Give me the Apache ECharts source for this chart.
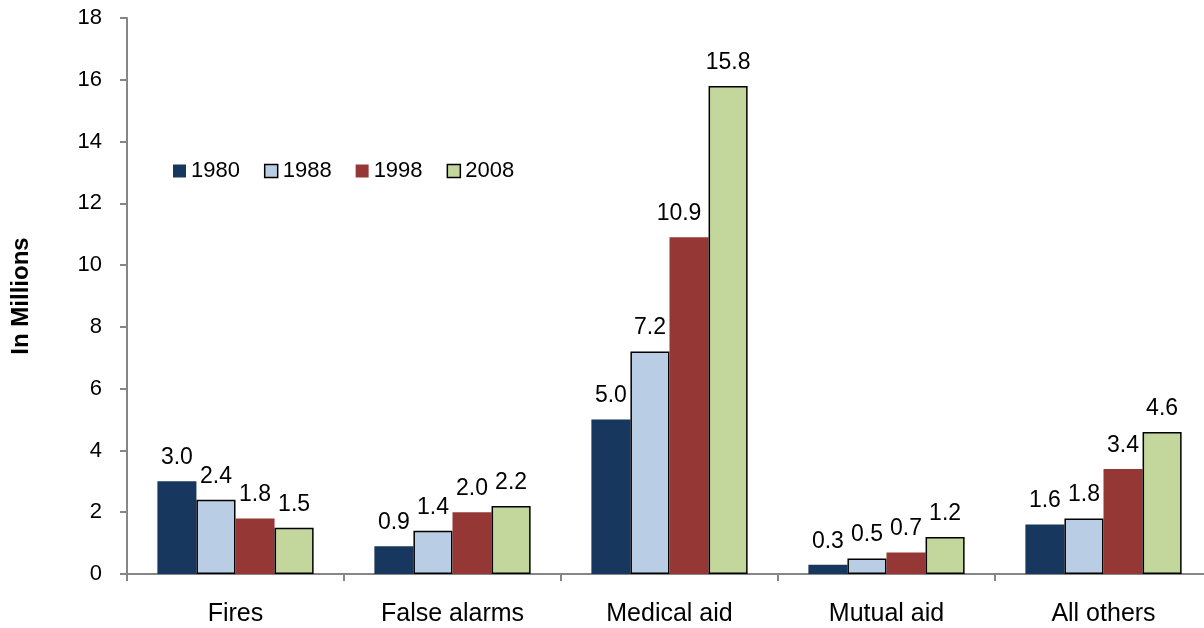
<!DOCTYPE html>
<html>
<head>
<meta charset="utf-8">
<script src="https://cdn.jsdelivr.net/npm/echarts@6/dist/echarts.min.js"></script>
<style>
  html, body { margin: 0; padding: 0; background: #fff; }
  #chart { width: 1204px; height: 628px; }
</style>
</head>
<body>
<div id="chart"></div>
<script>
// Fire department calls by type, in millions
const categories = ['Fires', 'False alarms', 'Medical aid', 'Mutual aid', 'All others'];
const years = ['1980', '1988', '1998', '2008'];
const calls1980 = [3.0, 0.9, 5.0, 0.3, 1.6];
const calls1988 = [2.4, 1.4, 7.2, 0.5, 1.8];
const calls1998 = [1.8, 2.0, 10.9, 0.7, 3.4];
const calls2008 = [1.5, 2.2, 15.8, 1.2, 4.6];
const yTicks = [0, 2, 4, 6, 8, 10, 12, 14, 16, 18];

const seriesData = [calls1980, calls1988, calls1998, calls2008];
const fills = ['#17375E', '#B9CDE5', '#953735', '#C3D69B'];
const borders = [null, '#000000', null, '#000000'];

const chart = echarts.init(document.getElementById('chart'));

const axisGray = '#868686';
const font = 'Liberation Sans, Arial, sans-serif';

// The 1998 medical-aid label sits a little left so it clears the taller 2008 bar
function buildData(values, seriesIndex) {
  return values.map((v, j) => {
    if (seriesIndex === 2 && j === 2) {
      return { value: v, label: { offset: [-10, 0] } };
    }
    return v;
  });
}

chart.setOption({
  animation: false,
  backgroundColor: '#ffffff',
  grid: { left: 127, right: -8, top: 18, bottom: 54, outerBoundsMode: 'none', containLabel: false },
  legend: {
    left: 168,
    top: 155,
    itemWidth: 13,
    itemHeight: 13,
    itemGap: 24,
    icon: 'rect',
    textStyle: { fontFamily: font, fontSize: 22, color: '#000' },
    data: years.map((y, i) => ({
      name: y,
      itemStyle: borders[i] ? { borderColor: '#000', borderWidth: 1.5 } : { borderWidth: 0 }
    }))
  },
  xAxis: {
    type: 'category',
    data: categories,
    axisLine: { lineStyle: { color: axisGray, width: 2 } },
    axisTick: { show: true, length: 7, alignWithLabel: false, lineStyle: { color: axisGray, width: 2 } },
    axisLabel: { margin: 28, fontFamily: font, fontSize: 25, color: '#000' }
  },
  yAxis: {
    type: 'value',
    min: yTicks[0],
    max: yTicks[yTicks.length - 1],
    interval: yTicks[1] - yTicks[0],
    name: 'In Millions',
    nameLocation: 'middle',
    nameRotate: 90,
    nameGap: 94,
    nameTextStyle: { fontFamily: font, fontSize: 24, fontWeight: 'bold', color: '#000' },
    axisLine: { show: true, lineStyle: { color: axisGray, width: 2 } },
    axisTick: { show: true, length: 7, inside: false, lineStyle: { color: axisGray, width: 2 } },
    splitLine: { show: false },
    axisLabel: { margin: 25, fontFamily: font, fontSize: 22, color: '#000' }
  },
  series: years.map((y, i) => ({
    name: y,
    type: 'bar',
    data: buildData(seriesData[i], i),
    barGap: '0%',
    barCategoryGap: '28%',
    itemStyle: {
      color: fills[i],
      borderColor: borders[i] || fills[i],
      borderWidth: borders[i] ? 1.5 : 0
    },
    label: {
      show: true,
      position: 'top',
      distance: 12,
      fontFamily: font,
      fontSize: 23,
      color: '#000',
      formatter: p => Number(p.value).toFixed(1)
    }
  }))
});
</script>
</body>
</html>
